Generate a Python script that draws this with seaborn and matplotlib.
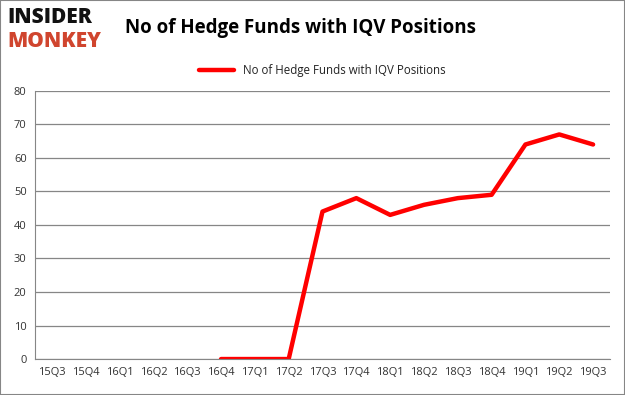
import numpy as np
import pandas as pd
import matplotlib
matplotlib.use("Agg")
import matplotlib.pyplot as plt
import seaborn as sns

quarters = ["15Q3", "15Q4", "16Q1", "16Q2", "16Q3", "16Q4", "17Q1", "17Q2", "17Q3",
            "17Q4", "18Q1", "18Q2", "18Q3", "18Q4", "19Q1", "19Q2", "19Q3"]
funds = [np.nan, np.nan, np.nan, np.nan, np.nan, 0, 0, 0, 44,
         48, 43, 46, 48, 49, 64, 67, 64]
y_ticks = [0, 10, 20, 30, 40, 50, 60, 70, 80]

label = "No of Hedge Funds with IQV Positions"


def main():
    df = pd.DataFrame({"quarter": quarters, "funds": funds})
    df["pos"] = np.arange(len(quarters))

    sns.set_style("white")
    plt.rcParams["font.family"] = ["Open Sans", "DejaVu Sans"]

    fig = plt.figure(figsize=(6.25, 3.95), dpi=100)
    ax = fig.add_axes([0.056, 0.091, 0.92, 0.679])

    sns.lineplot(data=df, x="pos", y="funds", ax=ax, color="#ff0000",
                 linewidth=3.2, label=label, legend=False)

    ax.set_xlim(-0.5, len(quarters) - 0.5)
    ax.set_ylim(0, 80)
    ax.set_yticks(y_ticks)
    ax.set_yticklabels([str(t) for t in y_ticks], fontsize=8, color="#333333")
    ax.set_xticks(np.arange(len(quarters)))
    ax.set_xticklabels(quarters, fontsize=8, color="#333333")
    ax.set_xticks(np.arange(len(quarters) + 1) - 0.5, minor=True)
    ax.tick_params(axis="x", which="major", length=0, pad=6)
    ax.tick_params(axis="x", which="minor", length=4, color="#868686")
    ax.tick_params(axis="y", length=0, pad=6)
    ax.set_xlabel("")
    ax.set_ylabel("")
    ax.grid(axis="y", color="#868686", linewidth=0.9)
    for side in ["top", "right"]:
        ax.spines[side].set_visible(False)
    for side in ["left", "bottom"]:
        ax.spines[side].set_color("#868686")

    # title + legend
    fig.text(0.20, 0.93, "No of Hedge Funds with IQV Positions", fontsize=13.5,
             fontweight="bold", color="black", va="center", ha="left")
    leg = ax.legend(loc="upper center", bbox_to_anchor=(0.5, 1.14), frameon=False,
                    fontsize=8.3, handlelength=3)
    for t in leg.get_texts():
        t.set_color("#222222")

    # logo
    fig.text(0.012, 0.955, "INSIDER", fontsize=15, fontweight="heavy",
             color="#111111", va="center", ha="left")
    fig.text(0.012, 0.895, "MONKEY", fontsize=15, fontweight="heavy",
             color="#d0452e", va="center", ha="left")

    # border around the image
    fig.patches.append(plt.Rectangle((0, 0), 1, 1, transform=fig.transFigure,
                                     fill=False, edgecolor="#868686", linewidth=1.5))

    fig.savefig("out.png", dpi=100)


if __name__ == "__main__":
    main()
